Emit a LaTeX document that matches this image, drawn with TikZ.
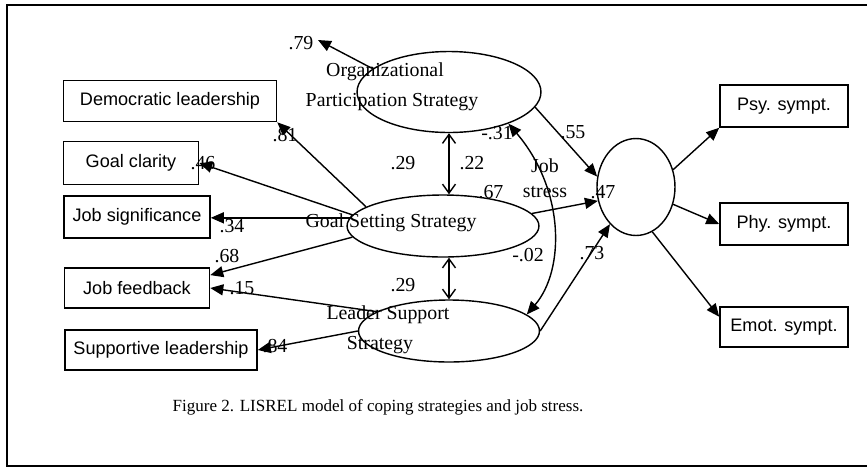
\documentclass[tikz,border=0pt]{standalone}
\usepackage{fontspec}
\setmainfont{Liberation Serif}
\newfontfamily\boxfont{Liberation Sans}
\usetikzlibrary{arrows.meta,shapes.geometric}
\tikzset{obs/.style={draw,line width=.9pt,inner sep=0pt,font=\boxfont\fontsize{10.3}{12}\selectfont},lat/.style={ellipse,draw,line width=.8pt,inner sep=0pt},path/.style={-{Triangle[length=2.6mm,width=2.2mm]},line width=.8pt},corr/.style={{Straight Barb[length=1.8mm,width=2.6mm]}-{Straight Barb[length=1.8mm,width=2.6mm]},line width=.8pt},coef/.style={inner sep=1pt,font=\fontsize{11.3}{12}\selectfont},lbl/.style={inner sep=0pt,font=\fontsize{11.3}{14}\selectfont,align=center}}

\begin{document}
\begin{tikzpicture}[x=.02cm,y=-.02cm]
      \useasboundingbox (0,0) rectangle (867,468);
      \draw[line width=.8pt](867,5)--(7,5)--(7,466)--(867,466);
      % latent variables
      \node[lat,minimum width=3.68cm,minimum height=1.62cm](org)at(449,92){};
      \node[lat,minimum width=3.84cm,minimum height=1.24cm](goal)at(443,226){};
      \node[lat,minimum width=3.62cm,minimum height=1.24cm](lead)at(449,331){};
      \node[lat,minimum width=1.56cm,minimum height=1.94cm](stress)at(636,187){};
      \node[lbl](orgA)at(385,72){Organizational};
      \node[lbl](orgB)at(392,102){Participation Strategy};
      \node[lbl](goalT)at(391,223){Goal Setting Strategy};
      \node[lbl](leadA)at(388,315){Leader Support};
      \node[lbl](leadB)at(380,345){Strategy};
      \node[lbl](stressT)at(545,178){Job\\stress};
      % indicators
      \node[obs,minimum width=4.26cm,minimum height=.82cm](demo)at(170,101){Democratic leadership};
      \node[obs,minimum width=2.7cm,minimum height=.86cm](clar)at(131,163){Goal clarity};
      \node[obs,minimum width=2.92cm,minimum height=.84cm](signif)at(137,217){Job significance};
      \node[obs,minimum width=2.9cm,minimum height=.8cm](feedb)at(137,288){Job feedback};
      \node[obs,minimum width=3.84cm,minimum height=.8cm](supp)at(161,350){Supportive leadership};
      \node[obs,minimum width=2.56cm,minimum height=.84cm](psy)at(784,106){Psy. sympt.};
      \node[obs,minimum width=2.56cm,minimum height=.84cm](phy)at(784,224){Phy. sympt.};
      \node[obs,minimum width=2.56cm,minimum height=.8cm](emot)at(784,327){Emot. sympt.};
      \coordinate(err)at(318,40);
      % paths
      \draw[path](org.163)--(err);
      \draw[path](goal.166)--(demo.south east);
      \draw[path](goal.173)--(clar.east);
      \draw[path](goal.175)--(goal.175-|signif.east);
      \draw[path](goal.187)--(feedb.10);
      \draw[path](lead.165)--(feedb.east);
      \draw[path](lead.180)--(supp.east);
      \draw[corr](org.south)--(org.south|-goal.north);
      \draw[corr](lead.north|-goal.south)--(lead.north);
      \draw[path,{Triangle[length=2.6mm,width=2.2mm]}-{Triangle[length=2.6mm,width=2.2mm]}](org.-28)..controls(565,190)and(565,270)..(lead.12);
      \draw[path](org.-10)--(stress.165);
      \draw[path](goal.8)--(stress.200);
      \draw[path](lead.0)--(stress.235);
      \draw[path](stress.25)--(psy.south west);
      \draw[path](stress.-25)--(phy.west);
      \draw[path](stress.-70)--(emot.171);
      % coefficients
      \node[coef](c79)at(301,43){.79};
      \node[coef](c81)at(285,135){.81};
      \node[coef](c46)at(203,163){.46};
      \node[coef](c34)at(232,226){.34};
      \node[coef](c68)at(227,256){.68};
      \node[coef](c15)at(242,288){.15};
      \node[coef](c84)at(275,346){.84};
      \node[coef](c29a)at(403,163){.29};
      \node[coef](c22)at(472,163){.22};
      \node[coef](c29b)at(403,285){.29};
      \node[coef](c67)at(491,192){.67};
      \node[coef](c31)at(497,133){-.31};
      \node[coef](c02)at(528,255){-.02};
      \node[coef](c55)at(573,132){.55};
      \node[coef](c47)at(603,192){.47};
      \node[coef](c73)at(592,253){.73};
      \node[font=\fontsize{9.7}{11}\selectfont](cap)at(378,407){Figure 2. LISREL model of coping strategies and job stress.};
\end{tikzpicture}
\end{document}
